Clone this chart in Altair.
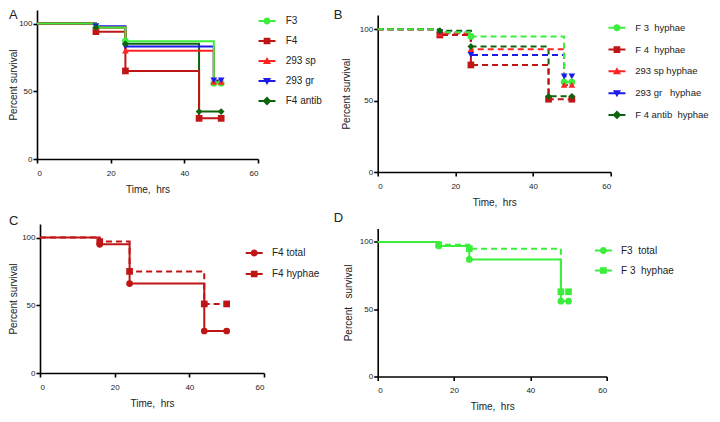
import altair as alt
import pandas as pd

FONT = "Liberation Sans"
NB = "\u00a0"


def nb(s):
    return s.replace("  ", " " + NB)

# ---------------- data ----------------
# Panel A (solid lines)
A_names = ["F3", "F4", "293 sp", "293 gr", "F4 antib"]
A_times = [[0, 16, 24, 48, 50], [0, 16, 24, 44, 50], [0, 16, 24, 48, 50],
           [0, 16, 24, 48, 50], [0, 16, 24, 44, 50]]
A_surv = [[100, 97, 87, 56, 56], [100, 94, 65, 30, 30], [100, 97, 80, 57, 57],
          [100, 98, 83, 58, 58], [100, 97, 85, 35, 35]]

# Panel B (dashed lines, hyphae)
B_names = [nb("F 3  hyphae"), nb("F 4  hyphae"), "293 sp hyphae",
           nb("293 gr   hyphae"), nb("F 4 antib  hyphae")]
B_times = [[0, 16, 24, 48, 50], [0, 16, 24, 44, 50], [0, 16, 24, 48, 50],
           [0, 16, 24, 48, 50], [0, 16, 24, 44, 50]]
B_surv = [[100, 98, 95, 63, 63], [100, 96, 75, 51, 51], [100, 97, 86, 61, 61],
          [100, 98, 82, 67, 67], [100, 99, 88, 53, 53]]

# Panel C
C_names = ["F4 total", "F4 hyphae"]
C_times = [[0, 16, 24, 44, 50], [0, 16, 24, 44, 50]]
C_surv = [[100, 95, 66, 31, 31], [100, 97, 75, 51, 51]]

# Panel D
D_names = [nb("F3  total"), nb("F 3  hyphae")]
D_times = [[0, 16, 24, 48, 50], [0, 16, 24, 48, 50]]
D_surv = [[100, 97, 87, 56, 56], [100, 98, 95, 63, 63]]

# ---------------- styles ----------------
GREEN = "#3bee3b"
DARKRED = "#bf1515"
RED = "#ff2424"
BLUE = "#1c1ce6"
DKGREEN = "#0c640c"

SOLID = [1, 0]
DASH = [6, 4]

LINE = "M-2.4,-0.28H2.4V0.28H-2.4Z"
LEG = {
    "circle": LINE + "M-1,0A1,1,0,1,1,1,0A1,1,0,1,1,-1,0Z",
    "square": LINE + "M-0.95,-0.95H0.95V0.95H-0.95Z",
    "triangle-up": LINE + "M0,-1.15L1.15,0.85H-1.15Z",
    "triangle-down": LINE + "M0,1.15L-1.15,-0.85H1.15Z",
    "diamond": LINE + "M0,-1.25L1.25,0L0,1.25L-1.25,0Z",
}


def panel(letter, names, times, surv, colors, shapes, dashes, W, H,
          x_off, y_off, letter_x, letter_y, leg_x, leg_y, row_pad, lab_off,
          lab_size, ytitle, ytitle_pad):
    rows = []
    for n, ts, vs in zip(names, times, surv):
        for t, v in zip(ts, vs):
            rows.append({"series": n, "t": t, "v": v})
    df = pd.DataFrame(rows)

    cw, ch = W + x_off, H + y_off
    x = alt.X("t:Q", scale=alt.Scale(domain=[0, 60], nice=False, range=[x_off, cw]),
              axis=alt.Axis(values=[0, 20, 40, 60], format="d",
                            title="Time," + NB + " hrs", titlePadding=7,
                            labelPadding=6))
    y = alt.Y("v:Q", scale=alt.Scale(domain=[0, 110], nice=False, range=[ch, y_off]),
              axis=alt.Axis(values=[0, 50, 100], format="d", title=ytitle,
                            titlePadding=ytitle_pad, labelPadding=1,
                            offset=-x_off))

    base = alt.Chart(df)
    layers = []
    for i in reversed(range(len(names))):
        layers.append(
            base.transform_filter(alt.datum.series == names[i])
            .mark_line(interpolate="step-after", strokeWidth=2,
                       strokeDash=dashes[i], color=colors[i])
            .encode(x=x, y=y)
        )
    pts = (
        base.transform_filter(alt.datum.t > 0)
        .mark_point(filled=True, size=45, opacity=1, strokeWidth=0)
        .encode(
            x=x, y=y,
            color=alt.Color("series:N", scale=alt.Scale(domain=names, range=colors), legend=None),
            shape=alt.Shape("series:N", scale=alt.Scale(domain=names, range=shapes), legend=None),
        )
    )
    layers.append(pts)

    lg = alt.Legend(title=None, orient="none", legendX=leg_x, legendY=leg_y,
                    symbolSize=50, symbolStrokeWidth=0, symbolOpacity=1,
                    labelOffset=lab_off, rowPadding=row_pad, padding=0,
                    labelFont=FONT, labelFontSize=lab_size, labelColor="#222222")
    leg = (
        base.transform_filter("false")
        .mark_point(filled=True, size=50, opacity=1)
        .encode(
            x=x, y=y,
            color=alt.Color("series:N", scale=alt.Scale(domain=names, range=colors), legend=lg),
            shape=alt.Shape("series:N", scale=alt.Scale(domain=names, range=[LEG[s] for s in shapes]), legend=lg),
        )
    )
    layers.append(leg)

    lab = (
        alt.Chart(pd.DataFrame({"letter": [letter]}))
        .mark_text(font=FONT, fontSize=13, color="#222222", align="left", baseline="middle")
        .encode(text="letter:N", x=alt.value(letter_x), y=alt.value(letter_y))
    )
    layers.append(lab)

    return (
        alt.layer(*layers)
        .properties(width=cw, height=ch)
        .resolve_scale(color="independent", shape="independent")
    )


MARKS5 = ["circle", "square", "triangle-up", "triangle-down", "diamond"]
COLS5 = [GREEN, DARKRED, RED, BLUE, DKGREEN]

pA = panel("A", A_names, A_times, A_surv, COLS5, MARKS5, [SOLID] * 5,
           221, 149, 0, 0, -28, 4.5, 225, 6, 10, 13.7, 10,
           "Percent survival", 0)
pB = panel("B", B_names, B_times, B_surv, COLS5, MARKS5, [DASH] * 5,
           233, 157, 0, 5, -44, 4.5, 234.5, 13, 10.8, 13.5, 9.5,
           "Percent survival", 8)
pC = panel("C", C_names, C_times, C_surv, [DARKRED, DARKRED],
           ["circle", "square"], [SOLID, DASH],
           224, 149, 3, 0, -28, -3.5, 212.2, 24, 11, 12.8, 10,
           "Percent survival", 3)
pD = panel("D", D_names, D_times, D_surv, [GREEN, GREEN],
           ["circle", "square"], [SOLID, DASH],
           229, 148, 0, 0, -44, -11, 220.7, 17, 10, 12.6, 10,
           "Percent" + NB + NB + " survival", 6)

chart = (
    alt.hconcat(
        alt.vconcat(pA, pC, spacing=20),
        alt.vconcat(pB, pD, spacing=4.5),
        spacing=11.7,
    )
    .properties(padding=0)
    .configure_view(stroke=None)
    .configure_axis(
        grid=False, domainColor="#000000", domainWidth=1.6,
        tickColor="#000000", tickWidth=1.6, tickSize=4,
        labelFont=FONT, labelFontSize=8, labelColor="#222222",
        titleFont=FONT, titleFontSize=10, titleFontWeight="normal",
        titleColor="#222222",
    )
    .configure_legend(labelFont=FONT)
)

chart.save("out.html", embed_options={"renderer": "svg", "actions": False})
